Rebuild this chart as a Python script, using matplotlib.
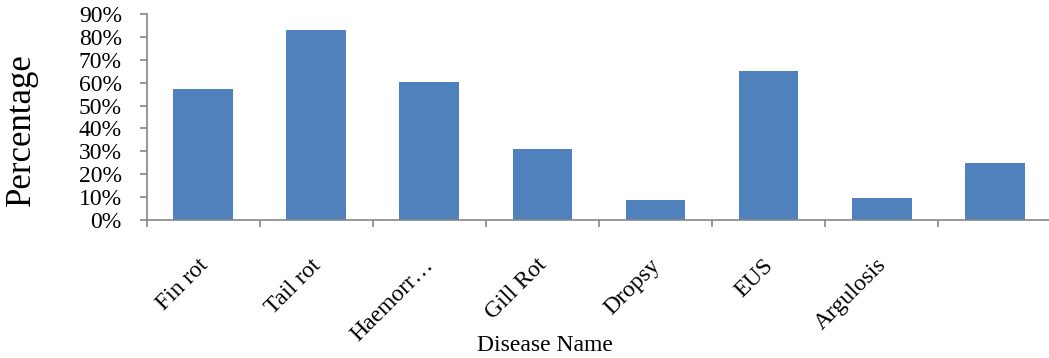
import matplotlib.pyplot as plt
from matplotlib.ticker import PercentFormatter, FixedLocator
from matplotlib.transforms import ScaledTranslation

diseases = ["Fin rot", "Tail rot", "Haemorr…", "Gill Rot", "Dropsy", "EUS", "Argulosis", ""]
percentages = [57.2, 83.0, 60.3, 31.0, 8.7, 65.2, 9.6, 24.9]

plt.rcParams['font.family'] = ['Liberation Serif', 'DejaVu Serif']
axis_grey = "#868686"

fig = plt.figure(figsize=(10.49, 3.58), dpi=100)
ax = fig.add_axes([0.140, 0.3855, 0.862, 0.5755])

x = range(len(diseases))
ax.bar(x, percentages, width=0.53, color="#4F81BD")

ax.set_xlim(-0.5, len(diseases) - 0.5)
ax.set_ylim(0, 90)
ax.set_yticks(range(0, 91, 10))
ax.yaxis.set_major_formatter(PercentFormatter(decimals=0))

# ticks between categories, labels at centres
ax.xaxis.set_major_locator(FixedLocator([i - 0.5 for i in range(len(diseases) + 1)]))
ax.xaxis.set_minor_locator(FixedLocator(list(x)))
ax.set_xticklabels([])
ax.set_xticklabels(diseases, minor=True, rotation=45, ha="right",
                   rotation_mode="anchor", fontsize=17)
ax.tick_params(axis="x", which="minor", length=0, pad=25)
ax.tick_params(axis="x", which="major", length=5, color=axis_grey, width=1.2)
ax.tick_params(axis="y", length=5, color=axis_grey, width=1.2, labelsize=17, pad=13)

shift = ScaledTranslation(-6 / 100, 0, fig.dpi_scale_trans)
for lbl in ax.get_xticklabels(minor=True):
    lbl.set_transform(lbl.get_transform() + shift)

for s in ["top", "right"]:
    ax.spines[s].set_visible(False)
for s in ["left", "bottom"]:
    ax.spines[s].set_color(axis_grey)
    ax.spines[s].set_linewidth(1.2)

ax.set_ylabel("Percentage", fontsize=25)
ax.yaxis.set_label_coords(-0.12, 0.437)
ax.set_xlabel("Disease Name", fontsize=17)
ax.xaxis.set_label_coords(0.44, -0.56)

fig.savefig("out.png", dpi=100)
